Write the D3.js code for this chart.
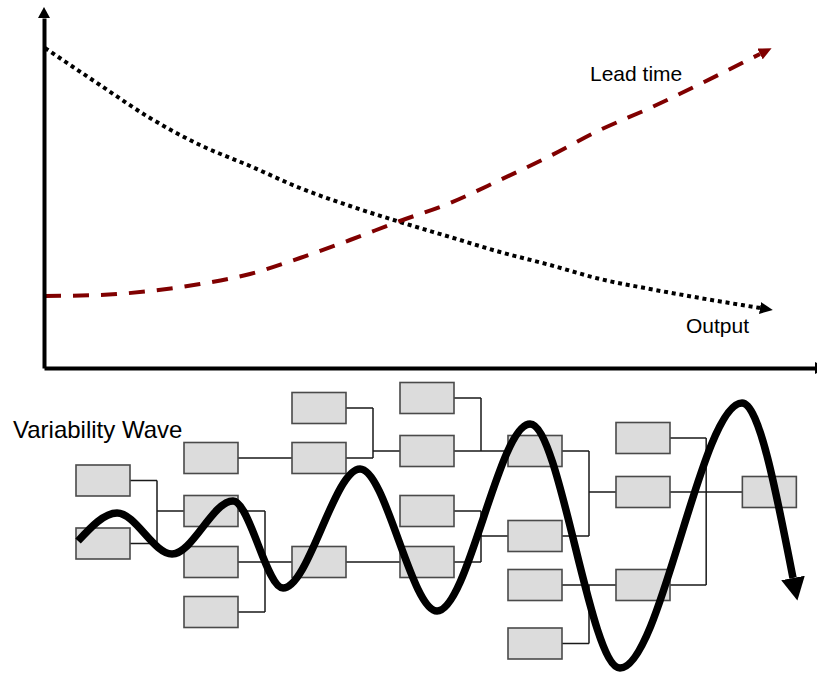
<!DOCTYPE html>
<html lang="en">
<head>
<meta charset="UTF-8"/>
<title>Lead time and Output</title>
<script src="https://d3js.org/d3.v7.min.js"></script>
<style>
  body { margin: 0; background: #fff; }
  text { font-family: 'Liberation Sans', Arial, sans-serif; fill: #000; }
  .axis path { stroke: #000; stroke-width: 4px; }
  .box { fill: #dcdcdc; stroke: #4a4a4a; stroke-width: 1.6px; }
  .link { fill: none; stroke: #1a1a1a; stroke-width: 1.5px; }
</style>
</head>
<body>
<script>

// top chart, values measured from the axes origin
const curveX  = [1, 56, 106, 156, 206, 256, 306, 356, 406, 456, 506, 556, 606, 656, 716]
const outputY = [320, 283, 250, 223, 202, 180, 162, 146, 131, 116, 103, 89, 79, 70, 60]
const leadY   = [72, 73, 77, 84, 94, 110, 128, 147, 165, 188, 212, 238, 260, 284, 314]

// lower diagram: box levels per column, links between columns
const columns = [0, 1, 2, 3, 4, 5, 6.17]
const boxLevels = [
  [110.5, 173.5],
  [88, 141, 192, 242],
  [38, 88, 192],
  [28, 81, 141, 192],
  [81, 166, 215, 273.5],
  [68, 122, 215],
  [122]
]
const links = [
  {col: 0, from: [110.5, 173.5], to: 141},
  {col: 1, from: [88], to: 88},
  {col: 1, from: [141, 192, 242], to: 192},
  {col: 2, from: [38, 88], to: 81},
  {col: 2, from: [192], to: 192},
  {col: 3, from: [28, 81], to: 81},
  {col: 3, from: [141, 192], to: 166},
  {col: 4, from: [81, 166], to: 122},
  {col: 4, from: [215, 273.5], to: 215},
  {col: 5, from: [68, 122, 215], to: 122}
]
const waveX = [-0.231, 0.130, 0.639, 1.204, 1.667, 2.380, 3.093, 3.954, 4.787, 5.917, 6.389]
const waveY = [171, 143, 184, 131, 218, 99, 241, 54, 298, 33, 208]

const width = 817, height = 674
const boxW = 54, boxH = 31

const svg = d3.select("body").append("svg")
    .attr("width", width)
    .attr("height", height)

const defs = svg.append("defs")
const arrow = (id, color, len, half) => defs.append("marker")
    .attr("id", id)
    .attr("markerUnits", "userSpaceOnUse")
    .attr("viewBox", `0 ${-half} ${len} ${half * 2}`)
    .attr("refX", 0).attr("refY", 0)
    .attr("markerWidth", len).attr("markerHeight", half * 2)
    .attr("orient", "auto")
  .append("path")
    .attr("d", `M0,${-half}L${len},0L0,${half}Z`)
    .attr("fill", color)

arrow("arrow-lead", "#800000", 13, 6)
arrow("arrow-out", "#000", 13, 6)
arrow("arrow-wave", "#000", 23, 12)

// ---- top chart
const xScale = d3.scaleLinear().domain([0, 773]).range([44, 817])
const yScale = d3.scaleLinear().domain([0, 350]).range([368, 18])

const line = d3.line()
    .x((d, i) => xScale(curveX[i]))
    .y(d => yScale(d))
    .curve(d3.curveMonotoneX)

svg.append("path")
    .attr("d", line(outputY))
    .attr("fill", "none")
    .attr("stroke", "#000")
    .attr("stroke-width", 4)
    .attr("stroke-dasharray", "4,3.8")
    .attr("marker-end", "url(#arrow-out)")

svg.append("path")
    .attr("d", line(leadY))
    .attr("fill", "none")
    .attr("stroke", "#800000")
    .attr("stroke-width", 4)
    .attr("stroke-dasharray", "16,12")
    .attr("marker-end", "url(#arrow-lead)")

svg.append("g")
    .attr("class", "axis")
    .attr("transform", `translate(${xScale(0)},0)`)
    .call(d3.axisLeft(yScale).tickValues([]).tickSizeOuter(0))

svg.append("g")
    .attr("class", "axis")
    .attr("transform", `translate(0,${yScale(0)})`)
    .call(d3.axisBottom(xScale).tickValues([]).tickSizeOuter(0))

// arrow heads of the axes
const yTop = yScale(350), x0 = xScale(0), y0 = yScale(0)
svg.append("path")
    .attr("d", `M${x0 - 6},${yTop}L${x0},${yTop - 11}L${x0 + 6},${yTop}Z`)
svg.append("path")
    .attr("d", `M${width - 2},${y0 - 6}L${width + 10},${y0}L${width - 2},${y0 + 6}Z`)

svg.append("text")
    .attr("x", xScale(546)).attr("y", yScale(287))
    .style("font-size", "21px")
    .text("Lead time")

svg.append("text")
    .attr("x", xScale(642)).attr("y", yScale(35))
    .style("font-size", "21px")
    .text("Output")

// ---- lower diagram
const colScale = d3.scaleLinear().domain([0, 6]).range([103, 751])
const rowScale = d3.scaleLinear().domain([0, 300]).range([370, 670])

const left = c => colScale(columns[c]) - boxW / 2
const right = c => colScale(columns[c]) + boxW / 2

const linkPath = d3.path()
links.forEach(l => {
  const x1 = right(l.col), x2 = left(l.col + 1), mx = (x1 + x2) / 2
  const ys = l.from.concat([l.to])
  l.from.forEach(v => {
    linkPath.moveTo(x1, rowScale(v))
    linkPath.lineTo(mx, rowScale(v))
  })
  if (d3.min(ys) !== d3.max(ys)) {
    linkPath.moveTo(mx, rowScale(d3.min(ys)))
    linkPath.lineTo(mx, rowScale(d3.max(ys)))
  }
  linkPath.moveTo(mx, rowScale(l.to))
  linkPath.lineTo(x2, rowScale(l.to))
})
svg.append("path")
    .attr("class", "link")
    .attr("d", linkPath.toString())

const boxData = boxLevels.flatMap((levels, c) => levels.map(v => ({c, v})))
svg.selectAll("rect.box")
    .data(boxData)
    .join("rect")
    .attr("class", "box")
    .attr("x", d => left(d.c))
    .attr("y", d => rowScale(d.v) - boxH / 2)
    .attr("width", boxW)
    .attr("height", boxH)

const wave = d3.line()
    .x((d, i) => colScale(waveX[i]))
    .y(d => rowScale(d))
    .curve(d3.curveMonotoneX)

svg.append("path")
    .attr("d", wave(waveY))
    .attr("fill", "none")
    .attr("stroke", "#000")
    .attr("stroke-width", 7.5)
    .attr("marker-end", "url(#arrow-wave)")

svg.append("text")
    .attr("x", 13).attr("y", rowScale(68))
    .style("font-size", "24px")
    .text("Variability Wave")

</script>
</body>
</html>
